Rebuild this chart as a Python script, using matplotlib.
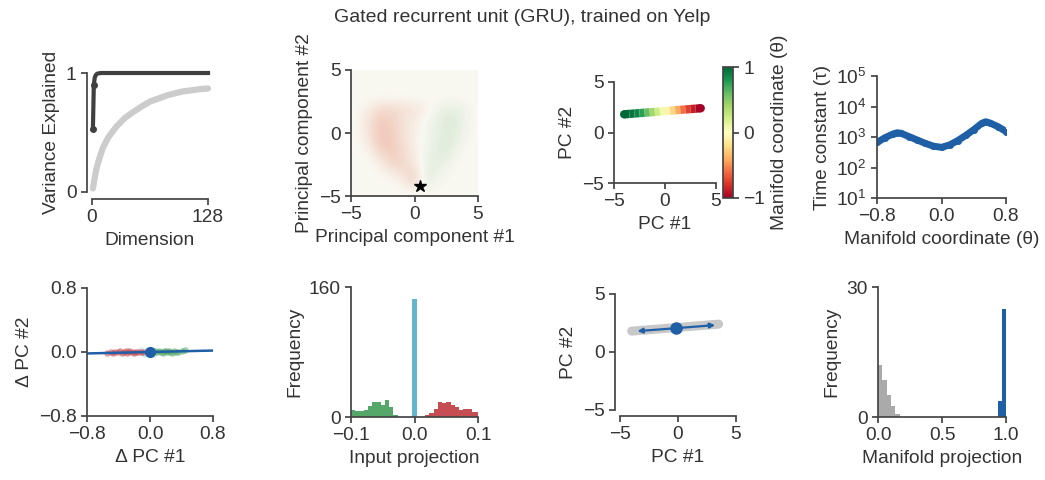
import numpy as np
import matplotlib
matplotlib.use("Agg")
import matplotlib.pyplot as plt
from matplotlib.colors import LinearSegmentedColormap
from matplotlib.collections import LineCollection

plt.rcParams['font.family'] = ['Liberation Sans', 'DejaVu Sans']
plt.rcParams['mathtext.fontset'] = 'custom'
plt.rcParams['mathtext.rm'] = 'Liberation Sans'
plt.rcParams['font.size'] = 13.75
plt.rcParams['text.color'] = '#333333'
plt.rcParams['axes.labelcolor'] = '#333333'
plt.rcParams['xtick.color'] = '#444444'
plt.rcParams['ytick.color'] = '#444444'
plt.rcParams['xtick.labelcolor'] = '#333333'
plt.rcParams['ytick.labelcolor'] = '#333333'
plt.rcParams['axes.edgecolor'] = '#444444'
plt.rcParams['axes.linewidth'] = 1.25
plt.rcParams['xtick.major.width'] = 1.25
plt.rcParams['ytick.major.width'] = 1.25
plt.rcParams['xtick.major.size'] = 4
plt.rcParams['ytick.major.size'] = 4
plt.rcParams['ytick.minor.size'] = 2
plt.rcParams['ytick.minor.width'] = 0.8
plt.rcParams['axes.unicode_minus'] = True

BLUE = '#1f5fa6'
GREEN = '#55a868'
RED = '#c44e52'
CYAN = '#64b5cd'

# --- panel 1: variance explained
dims_rnn = [1, 2, 3, 4, 5, 6, 8, 10, 15, 20, 40, 64, 96, 128]
var_rnn = [0.53, 0.90, 0.96, 0.98, 0.99, 0.995, 0.998, 1.0, 1.0, 1.0, 1.0, 1.0, 1.0, 1.0]
dims_shuf = [1, 3, 5, 8, 12, 18, 27, 36, 45, 55, 64, 75, 82, 92, 100, 110, 120, 128]
var_shuf = [0.03, 0.12, 0.20, 0.28, 0.37, 0.46, 0.55, 0.62, 0.67, 0.72, 0.76, 0.79, 0.81, 0.83, 0.845, 0.855, 0.865, 0.87]

# --- panel 2: state density (signed: red < 0 < green), rows y=5..-5, cols x=-5..5
density = [
    [0.0, 0.0, 0.0, 0.0, 0.0, 0.0, 0.0, 0.0, 0.0, 0.0, 0.0],
    [0.0, 0.0, 0.0, 0.0, 0.0, 0.0, 0.0, 0.0, 0.0, 0.0, 0.0],
    [0.0, 0.0, 0.0, 0.0, 0.0, 0.0, 0.0, 0.0, 0.0, 0.0, 0.0],
    [0.0, -0.06, -0.2, -0.2, -0.16, -0.12, -0.06, 0.05, 0.1, 0.08, 0.0],
    [0.0, -0.12, -0.3, -0.25, -0.14, -0.07, 0.02, 0.09, 0.15, 0.1, 0.0],
    [0.0, -0.12, -0.32, -0.28, -0.14, -0.06, 0.03, 0.09, 0.15, 0.08, 0.0],
    [0.0, -0.06, -0.3, -0.3, -0.16, -0.06, 0.04, 0.11, 0.15, 0.03, 0.0],
    [0.0, 0.0, -0.15, -0.3, -0.2, -0.07, 0.06, 0.12, 0.1, 0.0, 0.0],
    [0.0, 0.0, -0.02, -0.16, -0.22, -0.12, 0.08, 0.1, 0.02, 0.0, 0.0],
    [0.0, 0.0, 0.0, 0.0, -0.1, -0.3, 0.15, 0.03, 0.0, 0.0, 0.0],
    [0.0, 0.0, 0.0, 0.0, 0.0, 0.0, 0.0, 0.0, 0.0, 0.0, 0.0],
]
fixed_pt = (0.4, -4.2)

# --- panel 3: manifold of fixed points
man_x = [-4.0, -3.5, -3.0, -2.5, -2.0, -1.5, -1.0, -0.5, 0.0, 0.5, 1.0, 1.5, 2.0, 2.5, 3.0, 3.5]
man_y = [1.80, 1.84, 1.88, 1.92, 1.96, 2.00, 2.04, 2.08, 2.12, 2.16, 2.20, 2.24, 2.28, 2.32, 2.36, 2.40]
man_theta = [1.0, 0.97, 0.92, 0.82, 0.68, 0.5, 0.32, 0.15, 0.0, -0.15, -0.32, -0.5, -0.68, -0.82, -0.93, -1.0]

# --- panel 4: time constants along the manifold
tau_theta = [-0.8, -0.7, -0.6, -0.55, -0.5, -0.4, -0.3, -0.2, -0.1, 0.0, 0.1, 0.2, 0.3, 0.4, 0.5, 0.55, 0.6, 0.7, 0.8]
tau_log10 = [2.82, 2.98, 3.10, 3.14, 3.12, 3.01, 2.90, 2.79, 2.70, 2.66, 2.74, 2.88, 3.05, 3.24, 3.45, 3.50, 3.46, 3.34, 3.18]

# --- panel 5: input-driven displacements
neg_dx = [-0.55, -0.50, -0.47, -0.44, -0.41, -0.38, -0.36, -0.33, -0.31, -0.29, -0.27, -0.25, -0.22, -0.20, -0.18, -0.15, -0.12, -0.09]
neg_dy = [-0.01, 0.0, -0.015, 0.005, -0.005, 0.01, -0.012, 0.0, 0.008, -0.008, 0.012, -0.004, 0.004, -0.01, 0.006, 0.0, -0.006, 0.004]
pos_dx = [0.06, 0.09, 0.12, 0.14, 0.16, 0.18, 0.20, 0.22, 0.24, 0.26, 0.28, 0.30, 0.33, 0.36, 0.40, 0.45]
pos_dy = [0.01, -0.005, 0.015, 0.0, -0.012, 0.008, 0.018, -0.004, 0.012, 0.004, -0.008, 0.014, 0.006, 0.0, 0.01, 0.02]
zero_dx = [-0.12, -0.08, -0.05, -0.03, -0.01, 0.01, 0.03, 0.05, 0.08, -0.06, 0.04]
zero_dy = [0.02, -0.02, 0.01, -0.015, 0.025, -0.01, 0.015, -0.02, 0.0, -0.03, 0.03]
line_dx = [-0.8, 0.8]
line_dy = [-0.018, 0.018]

# --- panel 6: input projection histograms
neg_left = [-0.1, -0.0933, -0.0867, -0.08, -0.0733, -0.0667, -0.06, -0.0533, -0.0467, -0.04, -0.0333]
neg_counts = [9, 7, 7, 9, 13, 18, 18, 15, 21, 12, 3]
pos_left = [0.0167, 0.0233, 0.03, 0.0367, 0.0433, 0.05, 0.0567, 0.0633, 0.07, 0.0767, 0.0833, 0.09, 0.0933]
pos_counts = [2, 5, 10, 19, 17, 19, 15, 12, 9, 10, 10, 6, 6]
zero_left = [-0.0037]
zero_counts = [145]
hist_w = 0.0067

# --- panel 7: linearized dynamics at one fixed point
traj_x = [-4.0, 3.5]
traj_y = [1.8, 2.4]
fp_center = (-0.2, 2.05)
eig_ends = [(-3.5, 1.8), (3.2, 2.32)]

# --- panel 8: manifold projection histograms
rand_left = [0.0, 0.034, 0.068, 0.102, 0.136]
rand_counts = [12, 8.5, 5, 2.5, 0.6]
eig_left = [0.934, 0.967]
eig_counts = [3.6, 25]
proj_w = 0.033

W, H = 1045, 480
fig = plt.figure(figsize=(W / 100, H / 100), dpi=100)


def px_axes(l, r, t, b):
    return fig.add_axes([l / W, 1 - b / H, (r - l) / W, (b - t) / H])


def clean(ax, off_left=0, off_bottom=0):
    ax.spines['top'].set_visible(False)
    ax.spines['right'].set_visible(False)
    if off_left:
        ax.spines['left'].set_position(('outward', off_left))
    if off_bottom:
        ax.spines['bottom'].set_position(('outward', off_bottom))


fig.text(0.5, 1 - 18 / H, 'Gated recurrent unit (GRU), trained on Yelp', ha='center', va='center', fontsize=14)

# panel 1
ax = px_axes(92, 208, 73, 192)
ax.plot(dims_shuf, var_shuf, color='#cccccc', lw=4.5, solid_capstyle='round', clip_on=False)
ax.plot(dims_rnn, var_rnn, color='#404040', lw=3, marker='o', ms=4, markevery=[0, 1], clip_on=False)
ax.set_xlim(0, 128)
ax.set_ylim(0, 1)
ax.set_xticks([0, 128])
ax.set_yticks([0, 1])
ax.set_xlabel('Dimension')
ax.set_ylabel('Variance Explained')
clean(ax, 3.6, 5)

# panel 2
ax = px_axes(351, 478, 70, 196)
dens_cmap = LinearSegmentedColormap.from_list('dens', ['#e06040', '#f9f8f1', '#40a050'])
ax.imshow(np.array(density), cmap=dens_cmap, vmin=-1, vmax=1, extent=[-5, 5, -5, 5],
          interpolation='bicubic', aspect='auto')
ax.plot(*fixed_pt, marker='*', color='black', ms=9)
ax.set_xlim(-5, 5)
ax.set_ylim(-5, 5)
ax.set_xticks([-5, 0, 5])
ax.set_yticks([-5, 0, 5])
ax.set_xlabel('Principal component #1')
ax.set_ylabel('Principal component #2')
clean(ax)

# panel 3
ax = px_axes(614, 716, 82, 183)
pts = np.column_stack([man_x, man_y])
segs = np.stack([pts[:-1], pts[1:]], axis=1)
seg_theta = [(a + b) / 2 for a, b in zip(man_theta[:-1], man_theta[1:])]
lc = LineCollection(segs, cmap='RdYlGn', linewidths=6, capstyle='butt')
lc.set_array(np.array(seg_theta))
lc.set_clim(-1, 1)
ax.add_collection(lc)
ax.scatter([man_x[0], man_x[-1]], [man_y[0], man_y[-1]], c=[man_theta[0], man_theta[-1]],
           cmap='RdYlGn', vmin=-1, vmax=1, s=36, lw=0, zorder=3)
ax.set_xlim(-5, 5)
ax.set_ylim(-5, 5)
ax.set_xticks([-5, 0, 5])
ax.set_yticks([-5, 0, 5])
ax.set_xlabel('PC #1')
ax.set_ylabel('PC #2')
clean(ax)
cax = px_axes(723, 733, 67, 198)
cb = fig.colorbar(lc, cax=cax, ticks=[-1, 0, 1])
cb.outline.set_edgecolor('#444444')
cb.set_label('Manifold coordinate (θ)')

# panel 4
ax = px_axes(877, 1006, 76, 198)
ax.plot(tau_theta, [10 ** v for v in tau_log10], color=BLUE, lw=5, marker='o', ms=4)
ax.set_yscale('log')
ax.set_xlim(-0.8, 0.8)
ax.set_ylim(10, 1e5)
ax.set_xticks([-0.8, 0.0, 0.8])
ax.set_xticklabels(['\u22120.8', '0.0', '0.8'])
ax.set_yticks([1e1, 1e2, 1e3, 1e4, 1e5])
ax.set_yticklabels(['$10^{%d}$' % k for k in range(1, 6)])
ax.set_xlabel('Manifold coordinate (θ)')
ax.set_ylabel('Time constant (τ)')
clean(ax)

# panel 5
ax = px_axes(87, 213, 288, 416)
ax.scatter(zero_dx, zero_dy, s=22, color='#c6e2f0', alpha=0.6, lw=0)
ax.scatter(neg_dx, neg_dy, s=22, color=RED, alpha=0.55, lw=0)
ax.scatter(pos_dx, pos_dy, s=22, color=GREEN, alpha=0.55, lw=0)
ax.plot(line_dx, line_dy, color=BLUE, lw=1.8)
ax.plot(0, 0, 'o', color=BLUE, ms=7)
ax.set_xlim(-0.8, 0.8)
ax.set_ylim(-0.8, 0.8)
ax.set_xticks([-0.8, 0.0, 0.8])
ax.set_yticks([-0.8, 0.0, 0.8])
ax.set_xticklabels(['\u22120.8', '0.0', '0.8'])
ax.set_yticklabels(['\u22120.8', '0.0', '0.8'])
ax.set_xlabel('Δ PC #1')
ax.set_ylabel('Δ PC #2')
clean(ax)

# panel 6
ax = px_axes(351, 478, 287, 417)
ax.bar(neg_left, neg_counts, width=hist_w, align='edge', color=GREEN, lw=0)
ax.bar(pos_left, pos_counts, width=hist_w, align='edge', color=RED, lw=0)
ax.bar(zero_left, zero_counts, width=0.0074, align='edge', color=CYAN, lw=0)
ax.set_xlim(-0.1, 0.1)
ax.set_ylim(0, 160)
ax.set_xticks([-0.1, 0.0, 0.1])
ax.set_xticklabels(['\u22120.1', '0.0', '0.1'])
ax.set_yticks([0, 160])
ax.set_xlabel('Input projection')
ax.set_ylabel('Frequency')
clean(ax)

# panel 7
ax = px_axes(620, 736, 294, 410)
ax.plot(traj_x, traj_y, color='#c8c8c8', lw=6.5, solid_capstyle='round')
for end in eig_ends:
    ax.annotate('', xy=end, xytext=fp_center,
                arrowprops=dict(arrowstyle='-|>', color=BLUE, lw=1.6, mutation_scale=7, shrinkA=0, shrinkB=0))
ax.plot(*fp_center, 'o', color=BLUE, ms=8)
ax.set_xlim(-5, 5)
ax.set_ylim(-5, 5)
ax.set_xticks([-5, 0, 5])
ax.set_yticks([-5, 0, 5])
ax.set_xlabel('PC #1')
ax.set_ylabel('PC #2')
clean(ax, 3.6, 4.3)

# panel 8
ax = px_axes(878, 1006, 287, 417)
ax.bar(rand_left, rand_counts, width=proj_w, align='edge', color='#aaaaaa', lw=0)
ax.bar(eig_left, eig_counts, width=proj_w, align='edge', color=BLUE, lw=0)
ax.set_xlim(0, 1)
ax.set_ylim(0, 30)
ax.set_xticks([0.0, 0.5, 1.0])
ax.set_xticklabels(['0.0', '0.5', '1.0'])
ax.set_yticks([0, 30])
ax.set_xlabel('Manifold projection')
ax.set_ylabel('Frequency')
clean(ax)

fig.savefig('out.png', dpi=100)
